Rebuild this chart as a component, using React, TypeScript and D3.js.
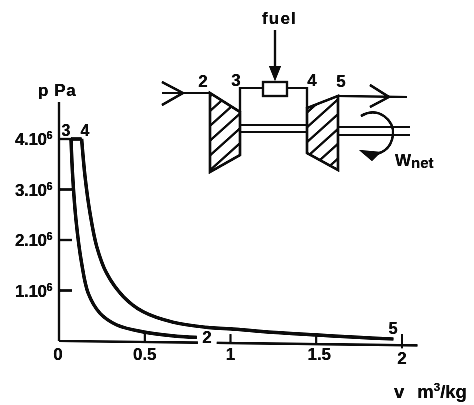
import React from "react";
import * as d3 from "d3";

const compressionV = [0.07, 0.08, 0.099, 0.132, 0.171, 0.239, 0.336, 0.49, 0.666, 0.803];
const compressionP = [4.0, 3.25, 2.4, 1.54, 0.94, 0.55, 0.32, 0.18, 0.1, 0.07];
const expansionV = [0.132, 0.152, 0.181, 0.22, 0.278, 0.375, 0.49, 0.666, 0.861, 1.0, 1.25, 1.5, 1.75, 1.95];
const expansionP = [4.0, 3.25, 2.53, 1.87, 1.34, 0.88, 0.58, 0.37, 0.27, 0.24, 0.17, 0.12, 0.07, 0.04];
const xTicks = [0.5, 1, 1.5, 2];
const xTickLabels = ["0.5", "1", "1.5", "2"];
const yTicks = [1, 2, 3, 4];
const yTickLabels = ["1.10", "2.10", "3.10", "4.10"];

const W = 474;
const H = 405;
const x = d3.scaleLinear().domain([0, 2]).range([59, 402]);
const y = d3.scaleLinear().domain([0, 4]).range([341, 139]);
const ink = "#0c0c0c";
const font = "'Liberation Sans', Arial, sans-serif";

const curve = d3
  .line<[number, number]>()
  .x((d) => x(d[0]))
  .y((d) => y(d[1]))
  .curve(d3.curveCatmullRom.alpha(0.5));
const pts = (v: number[], p: number[]) => v.map((d, i) => [d, p[i]] as [number, number]);
const axisDrop = (v: number) => 341 + (v / 2) * 4.2;

function T({ x: tx, y: ty, size = 16.5, children, anchor = "middle" }: any) {
  return (
    <text x={tx} y={ty} fontSize={size} fontFamily={font} fontWeight={700} fill={ink} textAnchor={anchor}>
      {children}
    </text>
  );
}

export default function App() {
  return (
    <svg width={W} height={H} style={{ position: "absolute", left: 0, top: 0, background: "#fff" }}>
      <defs>
        <filter id="soft" x="0" y="0" width="100%" height="100%" filterUnits="objectBoundingBox" colorInterpolationFilters="sRGB">
          <feGaussianBlur stdDeviation="0.75" />
          <feComponentTransfer>
            <feFuncA type="linear" slope="1.5" />
          </feComponentTransfer>
        </filter>
        <pattern id="hatch" width="11" height="11" patternUnits="userSpaceOnUse" patternTransform="rotate(-42)">
          <line x1="0" y1="3" x2="11" y2="3" stroke={ink} strokeWidth="2" />
        </pattern>
      </defs>
      <g filter="url(#soft)">
        {/* axes */}
        <line x1={x(0)} y1={102} x2={x(0)} y2={y(0)} stroke={ink} strokeWidth={2.2} />
        <line x1={x(0)} y1={y(0)} x2={x(0.81)} y2={axisDrop(0.81)} stroke={ink} strokeWidth={2.2} />
        <line x1={x(0.92)} y1={axisDrop(0.92)} x2={x(2.09)} y2={axisDrop(2.09)} stroke={ink} strokeWidth={2.2} />
        {yTicks.map((t, i) => (
          <g key={t}>
            <line x1={x(0)} x2={x(0) + 13} y1={y(t)} y2={y(t)} stroke={ink} strokeWidth={2.2} />
            <text x={15} y={y(t) + 6} fontSize={17} fontFamily={font} fontWeight={700} fill={ink} letterSpacing={-0.4}>
              {yTickLabels[i]}
              <tspan fontSize={11} dy={-6}>6</tspan>
            </text>
          </g>
        ))}
        {xTicks.map((t, i) => (
          <g key={t}>
            <line
              x1={x(t)}
              x2={x(t)}
              y1={axisDrop(t) - (t === 2 ? 11 : 9)}
              y2={axisDrop(t) + (t === 2 ? 3 : 0)}
              stroke={ink}
              strokeWidth={1.8}
            />
            <T x={x(t) + (t === 1.5 ? 3 : 0)} y={t === 2 ? 364 : 360} size={17}>
              {xTickLabels[i]}
            </T>
          </g>
        ))}
        <T x={58} y={360} size={17}>0</T>

        {/* cycle */}
        <line x1={x(0.07)} x2={x(0.132)} y1={y(4)} y2={y(4)} stroke={ink} strokeWidth={3.2} />
        <path d={curve(pts(compressionV, compressionP)) ?? ""} fill="none" stroke={ink} strokeWidth={3.2} />
        <path d={curve(pts(expansionV, expansionP)) ?? ""} fill="none" stroke={ink} strokeWidth={3.2} />

        <text x={38} y={96} fontSize={17} fontFamily={font} fontWeight={700} fill={ink} letterSpacing={0.6}>
          p Pa
        </text>
        <T x={66} y={136} size={16}>3</T>
        <T x={85} y={136} size={16}>4</T>
        <T x={207} y={343} size={17}>2</T>
        <T x={393} y={334} size={16.5}>5</T>
        <text x={394} y={398} fontSize={18.5} fontFamily={font} fontWeight={700} fill={ink}>
          v
          <tspan dx={13}>m</tspan>
          <tspan fontSize={11.5} dy={-7}>3</tspan>
          <tspan dy={7}>/kg</tspan>
        </text>

        {/* schematic */}
        <polygon points="210,93 240,112 240,155 210,172" fill="url(#hatch)" stroke={ink} strokeWidth={2.4} />
        <polygon points="307,108 338,96 338,170 307,153" fill="url(#hatch)" stroke={ink} strokeWidth={2.4} />
        <g fill="none" stroke={ink} strokeWidth={2.2}>
          <path d="M162,93 H211" />
          <path d="M162,82 L183,93 L162,105" />
          <path d="M240,112 V88 H263" />
          <rect x={263} y={82} width={24} height={14} />
          <path d="M287,88 H307 V108" />
          <path d="M240,125 H307 M240,132 H307" />
          <path d="M338,127 H410 M338,135 H410" />
          <path d="M338,96 L407,97" />
          <path d="M370,85 L389,97 L370,107" />
          <path d="M275,30 V72" />
          <path d="M361,116 C378,106 395,120 393,135 C391,150 380,155 368,155" />
        </g>
        <polygon points="269,66 281,66 275,81" fill={ink} />
        <polygon points="359,150 381,152 372,161" fill={ink} />
        <text x={262} y={24} fontSize={17} fontFamily={font} fontWeight={700} fill={ink} letterSpacing={1.2}>
          fuel
        </text>
        <T x={203} y={87} size={17}>2</T>
        <T x={236} y={86} size={17}>3</T>
        <T x={312} y={86} size={17}>4</T>
        <T x={341} y={87} size={17}>5</T>
        <text x={395} y={166} fontSize={17} fontFamily={font} fontWeight={700} fill={ink}>
          W<tspan fontSize={15} dy={2}>net</tspan>
        </text>
      </g>
    </svg>
  );
}
